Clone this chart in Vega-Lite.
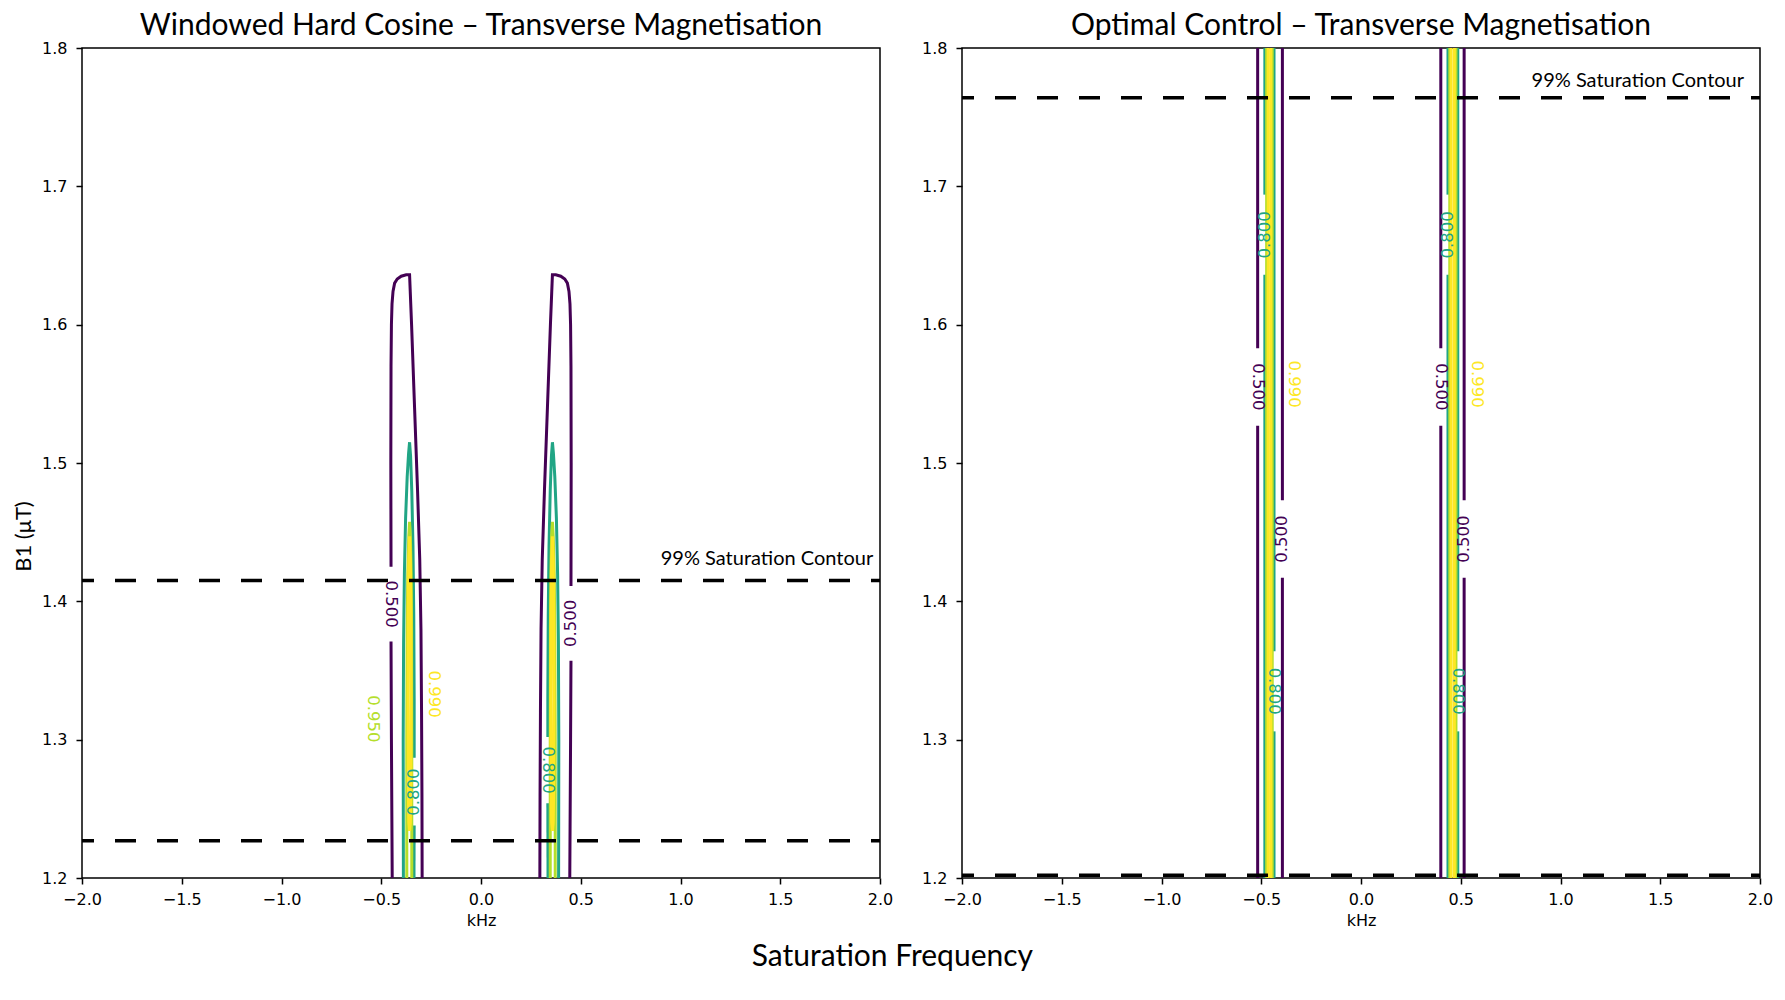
{
  "$schema": "https://vega.github.io/schema/vega-lite/v6.json",
  "background": "white",
  "padding": {"left": 11, "top": 10, "right": 10, "bottom": 10},
  "autosize": {"type": "pad"},
  "bounds": "flush",
  "spacing": 82,
  "title": {"text": "Saturation Frequency", "orient": "bottom", "anchor": "middle", "font": "Lato", "fontSize": 30, "fontWeight": "normal", "color": "#000", "offset": 13},
  "config": {
    "view": {"stroke": "#000", "strokeWidth": 1.5},
    "axis": {"domain": false, "grid": false, "ticks": true, "tickColor": "#000", "tickSize": 6, "tickWidth": 1.5, "labelFont": "DejaVu Sans", "labelFontSize": 16, "labelColor": "#000", "labelPadding": 7, "labelFlush": false, "labelOverlap": false, "titleFont": "DejaVu Sans", "titleFontSize": 16, "titleFontWeight": "normal", "titleColor": "#000"},
    "axisY": {"labelPadding": 9}
  },
  "datasets": {
    "leftLines": [
      {"seg": "a5a", "level": "0.500", "i": 0, "x": -0.445, "y": 1.2},
      {"seg": "a5a", "level": "0.500", "i": 1, "x": -0.449, "y": 1.3},
      {"seg": "a5a", "level": "0.500", "i": 2, "x": -0.451, "y": 1.371},
      {"seg": "a5b", "level": "0.500", "i": 0, "x": -0.451, "y": 1.425},
      {"seg": "a5b", "level": "0.500", "i": 1, "x": -0.452, "y": 1.5},
      {"seg": "a5b", "level": "0.500", "i": 2, "x": -0.451, "y": 1.57},
      {"seg": "a5b", "level": "0.500", "i": 3, "x": -0.449, "y": 1.6},
      {"seg": "a5b", "level": "0.500", "i": 4, "x": -0.446, "y": 1.615},
      {"seg": "a5b", "level": "0.500", "i": 5, "x": -0.441, "y": 1.624},
      {"seg": "a5b", "level": "0.500", "i": 6, "x": -0.433, "y": 1.63},
      {"seg": "a5b", "level": "0.500", "i": 7, "x": -0.42, "y": 1.633},
      {"seg": "a5b", "level": "0.500", "i": 8, "x": -0.4, "y": 1.635},
      {"seg": "a5b", "level": "0.500", "i": 9, "x": -0.375, "y": 1.636},
      {"seg": "a5b", "level": "0.500", "i": 10, "x": -0.358, "y": 1.636},
      {"seg": "a5b", "level": "0.500", "i": 11, "x": -0.348, "y": 1.6},
      {"seg": "a5b", "level": "0.500", "i": 12, "x": -0.333, "y": 1.54},
      {"seg": "a5b", "level": "0.500", "i": 13, "x": -0.318, "y": 1.48},
      {"seg": "a5b", "level": "0.500", "i": 14, "x": -0.307, "y": 1.43},
      {"seg": "a5b", "level": "0.500", "i": 15, "x": -0.301, "y": 1.38},
      {"seg": "a5b", "level": "0.500", "i": 16, "x": -0.298, "y": 1.32},
      {"seg": "a5b", "level": "0.500", "i": 17, "x": -0.296, "y": 1.26},
      {"seg": "a5b", "level": "0.500", "i": 18, "x": -0.295, "y": 1.2},
      {"seg": "b5a", "level": "0.500", "i": 0, "x": 0.295, "y": 1.2},
      {"seg": "b5a", "level": "0.500", "i": 1, "x": 0.296, "y": 1.26},
      {"seg": "b5a", "level": "0.500", "i": 2, "x": 0.298, "y": 1.32},
      {"seg": "b5a", "level": "0.500", "i": 3, "x": 0.301, "y": 1.38},
      {"seg": "b5a", "level": "0.500", "i": 4, "x": 0.307, "y": 1.43},
      {"seg": "b5a", "level": "0.500", "i": 5, "x": 0.318, "y": 1.48},
      {"seg": "b5a", "level": "0.500", "i": 6, "x": 0.333, "y": 1.54},
      {"seg": "b5a", "level": "0.500", "i": 7, "x": 0.348, "y": 1.6},
      {"seg": "b5a", "level": "0.500", "i": 8, "x": 0.358, "y": 1.636},
      {"seg": "b5a", "level": "0.500", "i": 9, "x": 0.375, "y": 1.636},
      {"seg": "b5a", "level": "0.500", "i": 10, "x": 0.4, "y": 1.635},
      {"seg": "b5a", "level": "0.500", "i": 11, "x": 0.42, "y": 1.633},
      {"seg": "b5a", "level": "0.500", "i": 12, "x": 0.433, "y": 1.63},
      {"seg": "b5a", "level": "0.500", "i": 13, "x": 0.441, "y": 1.624},
      {"seg": "b5a", "level": "0.500", "i": 14, "x": 0.446, "y": 1.615},
      {"seg": "b5a", "level": "0.500", "i": 15, "x": 0.449, "y": 1.6},
      {"seg": "b5a", "level": "0.500", "i": 16, "x": 0.451, "y": 1.57},
      {"seg": "b5a", "level": "0.500", "i": 17, "x": 0.452, "y": 1.5},
      {"seg": "b5a", "level": "0.500", "i": 18, "x": 0.451, "y": 1.411},
      {"seg": "b5b", "level": "0.500", "i": 0, "x": 0.451, "y": 1.357},
      {"seg": "b5b", "level": "0.500", "i": 1, "x": 0.449, "y": 1.3},
      {"seg": "b5b", "level": "0.500", "i": 2, "x": 0.445, "y": 1.2},
      {"seg": "a8a", "level": "0.800", "i": 0, "x": -0.389, "y": 1.2},
      {"seg": "a8a", "level": "0.800", "i": 1, "x": -0.39, "y": 1.3},
      {"seg": "a8a", "level": "0.800", "i": 2, "x": -0.388, "y": 1.37},
      {"seg": "a8a", "level": "0.800", "i": 3, "x": -0.384, "y": 1.42},
      {"seg": "a8a", "level": "0.800", "i": 4, "x": -0.378, "y": 1.46},
      {"seg": "a8a", "level": "0.800", "i": 5, "x": -0.37, "y": 1.49},
      {"seg": "a8a", "level": "0.800", "i": 6, "x": -0.363, "y": 1.507},
      {"seg": "a8a", "level": "0.800", "i": 7, "x": -0.358, "y": 1.515},
      {"seg": "a8a", "level": "0.800", "i": 8, "x": -0.353, "y": 1.505},
      {"seg": "a8a", "level": "0.800", "i": 9, "x": -0.347, "y": 1.48},
      {"seg": "a8a", "level": "0.800", "i": 10, "x": -0.341, "y": 1.44},
      {"seg": "a8a", "level": "0.800", "i": 11, "x": -0.337, "y": 1.39},
      {"seg": "a8a", "level": "0.800", "i": 12, "x": -0.335, "y": 1.33},
      {"seg": "a8a", "level": "0.800", "i": 13, "x": -0.335, "y": 1.287},
      {"seg": "a8b", "level": "0.800", "i": 0, "x": -0.335, "y": 1.238},
      {"seg": "a8b", "level": "0.800", "i": 1, "x": -0.336, "y": 1.2},
      {"seg": "b8a", "level": "0.800", "i": 0, "x": 0.336, "y": 1.2},
      {"seg": "b8a", "level": "0.800", "i": 1, "x": 0.335, "y": 1.254},
      {"seg": "b8b", "level": "0.800", "i": 0, "x": 0.335, "y": 1.302},
      {"seg": "b8b", "level": "0.800", "i": 1, "x": 0.335, "y": 1.33},
      {"seg": "b8b", "level": "0.800", "i": 2, "x": 0.337, "y": 1.39},
      {"seg": "b8b", "level": "0.800", "i": 3, "x": 0.341, "y": 1.44},
      {"seg": "b8b", "level": "0.800", "i": 4, "x": 0.347, "y": 1.48},
      {"seg": "b8b", "level": "0.800", "i": 5, "x": 0.353, "y": 1.505},
      {"seg": "b8b", "level": "0.800", "i": 6, "x": 0.358, "y": 1.515},
      {"seg": "b8b", "level": "0.800", "i": 7, "x": 0.363, "y": 1.507},
      {"seg": "b8b", "level": "0.800", "i": 8, "x": 0.37, "y": 1.49},
      {"seg": "b8b", "level": "0.800", "i": 9, "x": 0.378, "y": 1.46},
      {"seg": "b8b", "level": "0.800", "i": 10, "x": 0.384, "y": 1.42},
      {"seg": "b8b", "level": "0.800", "i": 11, "x": 0.388, "y": 1.37},
      {"seg": "b8b", "level": "0.800", "i": 12, "x": 0.39, "y": 1.3},
      {"seg": "b8b", "level": "0.800", "i": 13, "x": 0.389, "y": 1.2},
      {"seg": "a95", "level": "0.950", "i": 0, "x": -0.372, "y": 1.2},
      {"seg": "a95", "level": "0.950", "i": 1, "x": -0.372, "y": 1.3},
      {"seg": "a95", "level": "0.950", "i": 2, "x": -0.37, "y": 1.38},
      {"seg": "a95", "level": "0.950", "i": 3, "x": -0.367, "y": 1.42},
      {"seg": "a95", "level": "0.950", "i": 4, "x": -0.362, "y": 1.447},
      {"seg": "a95", "level": "0.950", "i": 5, "x": -0.358, "y": 1.4575},
      {"seg": "a95", "level": "0.950", "i": 6, "x": -0.354, "y": 1.447},
      {"seg": "a95", "level": "0.950", "i": 7, "x": -0.35, "y": 1.42},
      {"seg": "a95", "level": "0.950", "i": 8, "x": -0.348, "y": 1.38},
      {"seg": "a95", "level": "0.950", "i": 9, "x": -0.347, "y": 1.3},
      {"seg": "a95", "level": "0.950", "i": 10, "x": -0.347, "y": 1.2},
      {"seg": "b95", "level": "0.950", "i": 0, "x": 0.347, "y": 1.2},
      {"seg": "b95", "level": "0.950", "i": 1, "x": 0.347, "y": 1.3},
      {"seg": "b95", "level": "0.950", "i": 2, "x": 0.348, "y": 1.38},
      {"seg": "b95", "level": "0.950", "i": 3, "x": 0.35, "y": 1.42},
      {"seg": "b95", "level": "0.950", "i": 4, "x": 0.354, "y": 1.447},
      {"seg": "b95", "level": "0.950", "i": 5, "x": 0.358, "y": 1.4575},
      {"seg": "b95", "level": "0.950", "i": 6, "x": 0.362, "y": 1.447},
      {"seg": "b95", "level": "0.950", "i": 7, "x": 0.367, "y": 1.42},
      {"seg": "b95", "level": "0.950", "i": 8, "x": 0.37, "y": 1.38},
      {"seg": "b95", "level": "0.950", "i": 9, "x": 0.372, "y": 1.3},
      {"seg": "b95", "level": "0.950", "i": 10, "x": 0.372, "y": 1.2},
      {"seg": "a99", "level": "0.990", "i": 0, "x": -0.358, "y": 1.447},
      {"seg": "a99", "level": "0.990", "i": 1, "x": -0.362, "y": 1.43},
      {"seg": "a99", "level": "0.990", "i": 2, "x": -0.365, "y": 1.39},
      {"seg": "a99", "level": "0.990", "i": 3, "x": -0.366, "y": 1.33},
      {"seg": "a99", "level": "0.990", "i": 4, "x": -0.365, "y": 1.27},
      {"seg": "a99", "level": "0.990", "i": 5, "x": -0.362, "y": 1.24},
      {"seg": "a99", "level": "0.990", "i": 6, "x": -0.358, "y": 1.234},
      {"seg": "a99", "level": "0.990", "i": 7, "x": -0.354, "y": 1.24},
      {"seg": "a99", "level": "0.990", "i": 8, "x": -0.351, "y": 1.27},
      {"seg": "a99", "level": "0.990", "i": 9, "x": -0.35, "y": 1.33},
      {"seg": "a99", "level": "0.990", "i": 10, "x": -0.351, "y": 1.39},
      {"seg": "a99", "level": "0.990", "i": 11, "x": -0.354, "y": 1.43},
      {"seg": "a99", "level": "0.990", "i": 12, "x": -0.358, "y": 1.447},
      {"seg": "b99", "level": "0.990", "i": 0, "x": 0.358, "y": 1.447},
      {"seg": "b99", "level": "0.990", "i": 1, "x": 0.362, "y": 1.43},
      {"seg": "b99", "level": "0.990", "i": 2, "x": 0.365, "y": 1.39},
      {"seg": "b99", "level": "0.990", "i": 3, "x": 0.366, "y": 1.33},
      {"seg": "b99", "level": "0.990", "i": 4, "x": 0.365, "y": 1.27},
      {"seg": "b99", "level": "0.990", "i": 5, "x": 0.362, "y": 1.24},
      {"seg": "b99", "level": "0.990", "i": 6, "x": 0.358, "y": 1.234},
      {"seg": "b99", "level": "0.990", "i": 7, "x": 0.354, "y": 1.24},
      {"seg": "b99", "level": "0.990", "i": 8, "x": 0.351, "y": 1.27},
      {"seg": "b99", "level": "0.990", "i": 9, "x": 0.35, "y": 1.33},
      {"seg": "b99", "level": "0.990", "i": 10, "x": 0.351, "y": 1.39},
      {"seg": "b99", "level": "0.990", "i": 11, "x": 0.354, "y": 1.43},
      {"seg": "b99", "level": "0.990", "i": 12, "x": 0.358, "y": 1.447}
    ],
    "rightLines": [
      {"seg": "p1a", "level": "0.500", "i": 0, "x": -0.518, "y": 1.2},
      {"seg": "p1a", "level": "0.500", "i": 1, "x": -0.518, "y": 1.527},
      {"seg": "p1b", "level": "0.500", "i": 0, "x": -0.518, "y": 1.583},
      {"seg": "p1b", "level": "0.500", "i": 1, "x": -0.518, "y": 1.8},
      {"seg": "p2a", "level": "0.500", "i": 0, "x": -0.394, "y": 1.2},
      {"seg": "p2a", "level": "0.500", "i": 1, "x": -0.394, "y": 1.417},
      {"seg": "p2b", "level": "0.500", "i": 0, "x": -0.394, "y": 1.473},
      {"seg": "p2b", "level": "0.500", "i": 1, "x": -0.394, "y": 1.8},
      {"seg": "p3a", "level": "0.500", "i": 0, "x": 0.4, "y": 1.2},
      {"seg": "p3a", "level": "0.500", "i": 1, "x": 0.4, "y": 1.527},
      {"seg": "p3b", "level": "0.500", "i": 0, "x": 0.4, "y": 1.583},
      {"seg": "p3b", "level": "0.500", "i": 1, "x": 0.4, "y": 1.8},
      {"seg": "p4a", "level": "0.500", "i": 0, "x": 0.517, "y": 1.2},
      {"seg": "p4a", "level": "0.500", "i": 1, "x": 0.517, "y": 1.417},
      {"seg": "p4b", "level": "0.500", "i": 0, "x": 0.517, "y": 1.473},
      {"seg": "p4b", "level": "0.500", "i": 1, "x": 0.517, "y": 1.8},
      {"seg": "t1a", "level": "0.800", "i": 0, "x": -0.482, "y": 1.2},
      {"seg": "t1a", "level": "0.800", "i": 1, "x": -0.482, "y": 1.636},
      {"seg": "t1b", "level": "0.800", "i": 0, "x": -0.482, "y": 1.694},
      {"seg": "t1b", "level": "0.800", "i": 1, "x": -0.482, "y": 1.8},
      {"seg": "t2a", "level": "0.800", "i": 0, "x": -0.436, "y": 1.2},
      {"seg": "t2a", "level": "0.800", "i": 1, "x": -0.436, "y": 1.306},
      {"seg": "t2b", "level": "0.800", "i": 0, "x": -0.436, "y": 1.364},
      {"seg": "t2b", "level": "0.800", "i": 1, "x": -0.436, "y": 1.8},
      {"seg": "t3a", "level": "0.800", "i": 0, "x": 0.436, "y": 1.2},
      {"seg": "t3a", "level": "0.800", "i": 1, "x": 0.436, "y": 1.636},
      {"seg": "t3b", "level": "0.800", "i": 0, "x": 0.436, "y": 1.694},
      {"seg": "t3b", "level": "0.800", "i": 1, "x": 0.436, "y": 1.8},
      {"seg": "t4a", "level": "0.800", "i": 0, "x": 0.485, "y": 1.2},
      {"seg": "t4a", "level": "0.800", "i": 1, "x": 0.485, "y": 1.306},
      {"seg": "t4b", "level": "0.800", "i": 0, "x": 0.485, "y": 1.364},
      {"seg": "t4b", "level": "0.800", "i": 1, "x": 0.485, "y": 1.8},
      {"seg": "g1", "level": "0.950", "i": 0, "x": -0.473, "y": 1.2},
      {"seg": "g1", "level": "0.950", "i": 1, "x": -0.473, "y": 1.8},
      {"seg": "g2", "level": "0.950", "i": 0, "x": -0.445, "y": 1.2},
      {"seg": "g2", "level": "0.950", "i": 1, "x": -0.445, "y": 1.8},
      {"seg": "g3", "level": "0.950", "i": 0, "x": 0.445, "y": 1.2},
      {"seg": "g3", "level": "0.950", "i": 1, "x": 0.445, "y": 1.8},
      {"seg": "g4", "level": "0.950", "i": 0, "x": 0.476, "y": 1.2},
      {"seg": "g4", "level": "0.950", "i": 1, "x": 0.476, "y": 1.8},
      {"seg": "y1", "level": "0.990", "i": 0, "x": -0.465, "y": 1.2},
      {"seg": "y1", "level": "0.990", "i": 1, "x": -0.465, "y": 1.8},
      {"seg": "y2", "level": "0.990", "i": 0, "x": -0.452, "y": 1.2},
      {"seg": "y2", "level": "0.990", "i": 1, "x": -0.452, "y": 1.8},
      {"seg": "y3", "level": "0.990", "i": 0, "x": 0.452, "y": 1.2},
      {"seg": "y3", "level": "0.990", "i": 1, "x": 0.452, "y": 1.8},
      {"seg": "y4", "level": "0.990", "i": 0, "x": 0.468, "y": 1.2},
      {"seg": "y4", "level": "0.990", "i": 1, "x": 0.468, "y": 1.8}
    ],
    "leftLabels": [
      {"level": "0.500", "t": "0.500", "dir": "down", "x": -0.451, "y": 1.398},
      {"level": "0.500", "t": "0.500", "dir": "up", "x": 0.451, "y": 1.384},
      {"level": "0.950", "t": "0.950", "dir": "down", "x": -0.54, "y": 1.315},
      {"level": "0.990", "t": "0.990", "dir": "down", "x": -0.237, "y": 1.333},
      {"level": "0.800", "t": "0.800", "dir": "up", "x": -0.338, "y": 1.262},
      {"level": "0.800", "t": "0.800", "dir": "down", "x": 0.337, "y": 1.278}
    ],
    "rightLabels": [
      {"level": "0.800", "t": "0.800", "dir": "up", "x": -0.482, "y": 1.665},
      {"level": "0.500", "t": "0.500", "dir": "down", "x": -0.518, "y": 1.555},
      {"level": "0.990", "t": "0.990", "dir": "down", "x": -0.336, "y": 1.557},
      {"level": "0.500", "t": "0.500", "dir": "up", "x": -0.394, "y": 1.445},
      {"level": "0.800", "t": "0.800", "dir": "down", "x": -0.436, "y": 1.335},
      {"level": "0.800", "t": "0.800", "dir": "up", "x": 0.436, "y": 1.665},
      {"level": "0.500", "t": "0.500", "dir": "down", "x": 0.4, "y": 1.555},
      {"level": "0.990", "t": "0.990", "dir": "down", "x": 0.581, "y": 1.557},
      {"level": "0.500", "t": "0.500", "dir": "up", "x": 0.517, "y": 1.445},
      {"level": "0.800", "t": "0.800", "dir": "down", "x": 0.485, "y": 1.335}
    ],
    "leftSat": [{"y": 1.415}, {"y": 1.227}],
    "rightSat": [{"y": 1.764}, {"y": 1.202}],
    "leftNote": [{"x": 1.966, "y": 1.4305, "t": "99% Saturation Contour"}],
    "rightNote": [{"x": 1.92, "y": 1.776, "t": "99% Saturation Contour"}]
  },
  "hconcat": [
    {
      "width": 798,
      "height": 830,
      "title": {"text": "Windowed Hard Cosine – Transverse Magnetisation", "frame": "group", "anchor": "middle", "font": "Lato", "fontSize": 30, "fontWeight": "normal", "color": "#000", "baseline": "alphabetic", "offset": -25},
      "encoding": {
        "x": {"field": "x", "type": "quantitative", "scale": {"domain": [-2, 2], "nice": false, "zero": false}, "axis": {"values": [-2, -1.5, -1, -0.5, 0, 0.5, 1, 1.5, 2], "format": ".1f", "title": "kHz", "titlePadding": 5}},
        "y": {"field": "y", "type": "quantitative", "scale": {"domain": [1.2, 1.8], "nice": false, "zero": false}, "axis": {"values": [1.2, 1.3, 1.4, 1.5, 1.6, 1.7, 1.8], "format": ".1f", "title": "B1 (μT)", "titleFont": "Lato", "titleFontSize": 22, "titleAngle": -90, "titleAlign": "center", "titleBaseline": "middle", "titleX": -59, "titleY": 488}}
      },
      "layer": [
        {
          "data": {"name": "leftLines"},
          "mark": {"type": "line", "strokeWidth": 3, "clip": true},
          "encoding": {
            "color": {"field": "level", "type": "nominal", "scale": {"domain": ["0.500", "0.800", "0.950", "0.990"], "range": ["#440154", "#21a585", "#b5de2b", "#fde725"]}, "legend": null},
            "detail": {"field": "seg", "type": "nominal"},
            "order": {"field": "i", "type": "quantitative"}
          }
        },
        {
          "data": {"name": "leftSat"},
          "mark": {"type": "rule", "color": "#000", "strokeWidth": 3.5, "strokeDash": [21, 21], "strokeDashOffset": 12},
          "encoding": {"x": null}
        },
        {
          "data": {"name": "leftLabels"},
          "transform": [{"filter": "datum.dir === 'down'"}],
          "mark": {"type": "text", "font": "DejaVu Sans", "fontSize": 16.5, "align": "center", "baseline": "middle", "angle": 90},
          "encoding": {"text": {"field": "t"}, "color": {"field": "level", "type": "nominal", "legend": null}}
        },
        {
          "data": {"name": "leftLabels"},
          "transform": [{"filter": "datum.dir === 'up'"}],
          "mark": {"type": "text", "font": "DejaVu Sans", "fontSize": 16.5, "align": "center", "baseline": "middle", "angle": 270},
          "encoding": {"text": {"field": "t"}, "color": {"field": "level", "type": "nominal", "legend": null}}
        },
        {
          "data": {"name": "leftNote"},
          "mark": {"type": "text", "font": "Lato", "fontSize": 20, "align": "right", "baseline": "middle", "color": "#000"},
          "encoding": {"text": {"field": "t"}}
        }
      ]
    },
    {
      "width": 798,
      "height": 830,
      "title": {"text": "Optimal Control – Transverse Magnetisation", "frame": "group", "anchor": "middle", "font": "Lato", "fontSize": 30, "fontWeight": "normal", "color": "#000", "baseline": "alphabetic", "offset": -25},
      "encoding": {
        "x": {"field": "x", "type": "quantitative", "scale": {"domain": [-2, 2], "nice": false, "zero": false}, "axis": {"values": [-2, -1.5, -1, -0.5, 0, 0.5, 1, 1.5, 2], "format": ".1f", "title": "kHz", "titlePadding": 5}},
        "y": {"field": "y", "type": "quantitative", "scale": {"domain": [1.2, 1.8], "nice": false, "zero": false}, "axis": {"values": [1.2, 1.3, 1.4, 1.5, 1.6, 1.7, 1.8], "format": ".1f", "title": null}}
      },
      "layer": [
        {
          "data": {"name": "rightLines"},
          "mark": {"type": "line", "strokeWidth": 3, "clip": true},
          "encoding": {
            "color": {"field": "level", "type": "nominal", "scale": {"domain": ["0.500", "0.800", "0.950", "0.990"], "range": ["#440154", "#21a585", "#b5de2b", "#fde725"]}, "legend": null},
            "detail": {"field": "seg", "type": "nominal"},
            "order": {"field": "i", "type": "quantitative"}
          }
        },
        {
          "data": {"name": "rightSat"},
          "mark": {"type": "rule", "color": "#000", "strokeWidth": 3.5, "strokeDash": [21, 21], "strokeDashOffset": 12},
          "encoding": {"x": null}
        },
        {
          "data": {"name": "rightLabels"},
          "transform": [{"filter": "datum.dir === 'down'"}],
          "mark": {"type": "text", "font": "DejaVu Sans", "fontSize": 16.5, "align": "center", "baseline": "middle", "angle": 90},
          "encoding": {"text": {"field": "t"}, "color": {"field": "level", "type": "nominal", "legend": null}}
        },
        {
          "data": {"name": "rightLabels"},
          "transform": [{"filter": "datum.dir === 'up'"}],
          "mark": {"type": "text", "font": "DejaVu Sans", "fontSize": 16.5, "align": "center", "baseline": "middle", "angle": 270},
          "encoding": {"text": {"field": "t"}, "color": {"field": "level", "type": "nominal", "legend": null}}
        },
        {
          "data": {"name": "rightNote"},
          "mark": {"type": "text", "font": "Lato", "fontSize": 20, "align": "right", "baseline": "middle", "color": "#000"},
          "encoding": {"text": {"field": "t"}}
        }
      ]
    }
  ]
}
